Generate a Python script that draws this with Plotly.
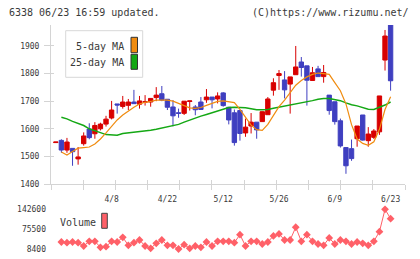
import plotly.graph_objects as go
import numpy as np

# ---------------- data ----------------
header_left = "6338 06/23 16:59 updated."
header_right = "(C)https://www.rizumu.net/"

candle_idx = list(range(61))
opens  = [1550, 1558, 1523, 1529, 1491, 1546, 1599, 1582, 1600, 1617,
          1639, 1690, 1681, 1685, 1697, 1689, 1696, 1697, 1713, 1727,
          1707, 1679, 1658, 1656, 1699, 1679, 1697, 1705, 1715, 1708,
          1730, 1678, 1658, 1666, 1585, 1610, 1624, 1626, 1651, 1740,
          1793, 1777, 1762, 1796, 1842, 1828, 1775, 1817, 1789, 1722,
          1698, 1629, 1532, 1528, 1564, 1650, 1557, 1569, 1589, 1849,
          1990]
highs  = [1552, 1562, 1567, 1529, 1534, 1587, 1620, 1624, 1622, 1647,
          1701, 1690, 1719, 1708, 1741, 1719, 1722, 1710, 1751, 1755,
          1707, 1704, 1673, 1700, 1701, 1686, 1715, 1744, 1715, 1732,
          1733, 1678, 1670, 1668, 1637, 1657, 1624, 1663, 1715, 1783,
          1813, 1809, 1788, 1900, 1860, 1828, 1824, 1828, 1831, 1722,
          1698, 1637, 1532, 1561, 1610, 1650, 1606, 1599, 1719, 1958,
          1995]
lows   = [1550, 1513, 1513, 1466, 1470, 1539, 1562, 1564, 1594, 1608,
          1634, 1655, 1673, 1668, 1691, 1673, 1684, 1680, 1700, 1700,
          1668, 1609, 1640, 1650, 1666, 1649, 1670, 1694, 1674, 1692,
          1680, 1616, 1539, 1557, 1571, 1583, 1564, 1625, 1651, 1720,
          1741, 1710, 1655, 1796, 1789, 1684, 1775, 1789, 1767, 1651,
          1615, 1532, 1437, 1484, 1535, 1557, 1535, 1563, 1578, 1811,
          1738]
closes = [1552, 1523, 1552, 1517, 1498, 1574, 1568, 1612, 1617, 1635,
          1668, 1686, 1697, 1697, 1691, 1701, 1698, 1710, 1722, 1704,
          1678, 1647, 1656, 1700, 1701, 1669, 1670, 1715, 1705, 1719,
          1684, 1632, 1550, 1583, 1606, 1624, 1596, 1662, 1708, 1767,
          1800, 1741, 1788, 1824, 1822, 1776, 1803, 1789, 1804, 1666,
          1626, 1538, 1466, 1492, 1610, 1559, 1581, 1592, 1719, 1936,
          1774]

ma5 = [None,
       1516, 1505, 1518, 1530, 1532, 1534, 1545, 1563, 1585, 1610,
       1632, 1650, 1665, 1678, 1690, 1696, 1699, 1704, 1704, 1704,
       1700, 1692, 1682, 1676, 1674, 1677, 1685, 1692, 1699, 1701,
       1699, 1695, 1670, 1643, 1613, 1597, 1594, 1616, 1649, 1680,
       1704, 1733, 1758, 1775, 1788, 1797, 1802, 1800, 1797, 1767,
       1738, 1690, 1615, 1563, 1547, 1540, 1553, 1598, 1670, 1716]
ma25 = [None,
        1642, 1636, 1627, 1620, 1612, 1600, 1594, 1586, 1579, 1577,
        1577, 1583, 1585, 1587, 1589, 1591, 1595, 1598, 1602, 1606,
        1611, 1616, 1624, 1632, 1640, 1646, 1652, 1658, 1664, 1672,
        1677, 1678, 1678, 1676, 1673, 1669, 1669, 1670, 1674, 1678,
        1682, 1685, 1689, 1692, 1697, 1702, 1707, 1710, 1710, 1705,
        1702, 1694, 1687, 1683, 1677, 1671, 1670, 1677, 1686, 1697]
volume = [None,
          32100, 29800, 32100, 29800, 18600, 34500, 34500, 14100, 16200, 34500,
          32100, 48000, 20900, 29800, 38900, 18600, 10700, 27700, 38900, 20900,
          20900, 8400, 23000, 10700, 18600, 14100, 32100, 18600, 34500, 34500,
          34500, 29800, 56900, 18600, 34500, 34500, 25300, 32100, 52500, 59250,
          38900, 38900, 82000, 34500, 56900, 34500, 25300, 20900, 45700, 25300,
          38900, 34500, 25300, 32100, 27700, 20900, 34500, 67000, 142600, 111000]

date_idx = [10, 20, 30, 40, 50, 60]
date_text = ["4/8", "4/22", "5/12", "5/26", "6/9", "6/23"]
price_ticks = [1400, 1500, 1600, 1700, 1800, 1900]
legend_labels = ["5-day MA", "25-day MA", "Volume"]

# ---------------- geometry / style ----------------
FIG_W, FIG_H = 420, 259
ML, MR, MT, MB = 51, 15, 25, 10
PW = FIG_W - ML - MR
PH = FIG_H - MT - MB
X0, DX = 55.8, 5.58          # pixel of candle 0 and candle spacing


def px(x):
    return (x - ML) / PW


def py(y):
    return (FIG_H - MB - y) / PH


def jx(x):
    return (x - X0) / DX


xrange_ = [jx(ML), jx(FIG_W - MR)]
main_dom = [py(184), 1.0]
vol_dom = [0.0, py(209.3)]
yrange_ = [1400, 1976]
frame_ticks = list(np.linspace(xrange_[0], xrange_[1], 12))

RED = "#d80000"
BLUE = "#3f3fc0"
ORANGE = "#f08c10"
GREEN = "#14a814"
VOLC = "#ff6068"
AXC = "#d4d4d4"
TXT = "#3a3a3a"
MONO = "DejaVu Sans Mono"

vals = [v for v in volume if v is not None]
vmin, vmax = min(vals), max(vals)
vmid = (vmin + vmax) / 2
vol_ticks = [vmin, vmid, vmax]

fig = go.Figure()

fig.add_trace(go.Scatter(x=candle_idx, y=ma25, mode="lines",
                         line=dict(color=GREEN, width=1.5),
                         hoverinfo="skip", showlegend=False))
fig.add_trace(go.Scatter(x=candle_idx, y=ma5, mode="lines",
                         line=dict(color=ORANGE, width=1.2),
                         hoverinfo="skip", showlegend=False))
fig.add_trace(go.Candlestick(x=candle_idx, open=opens, high=highs, low=lows, close=closes,
                             increasing=dict(line=dict(color=RED, width=1), fillcolor=RED),
                             decreasing=dict(line=dict(color=BLUE, width=1), fillcolor=BLUE),
                             whiskerwidth=0, hoverinfo="skip", showlegend=False))
fig.add_trace(go.Scatter(x=candle_idx, y=volume, mode="lines+markers",
                         line=dict(color=VOLC, width=1),
                         marker=dict(symbol="diamond", size=6, color=VOLC),
                         cliponaxis=False, hoverinfo="skip", showlegend=False,
                         xaxis="x2", yaxis="y2"))
# dummy trace to host the inside-tick overlay axes
fig.add_trace(go.Scatter(x=[None], y=[None], xaxis="x3", yaxis="y3",
                         hoverinfo="skip", showlegend=False))

tickfont = dict(family=MONO, size=8, color=TXT)
common = dict(automargin=False, showgrid=False, zeroline=False, fixedrange=True)

fig.update_layout(
    template="none",
    width=FIG_W, height=FIG_H,
    margin=dict(l=ML, r=MR, t=MT, b=MB, pad=0, autoexpand=False),
    paper_bgcolor="white", plot_bgcolor="white",
    showlegend=False, boxgap=0.22, boxgroupgap=0,
    xaxis=dict(domain=[0, 1], range=xrange_, anchor="y",
               tickmode="array", tickvals=frame_ticks, showticklabels=False,
               ticks="outside", ticklen=5, tickcolor=AXC, tickwidth=1,
               showline=True, linecolor=AXC, linewidth=1,
               rangeslider=dict(visible=False), **common),
    yaxis=dict(domain=main_dom, range=yrange_, anchor="x",
               tickmode="array", tickvals=price_ticks,
               ticks="outside", ticklen=6, tickcolor=AXC, tickwidth=1,
               showline=True, linecolor=AXC, linewidth=1,
               tickfont=tickfont, ticklabelstandoff=3, **common),
    xaxis3=dict(overlaying="x", anchor="y3", range=xrange_,
                tickmode="array", tickvals=frame_ticks, showticklabels=False,
                ticks="inside", ticklen=4, tickcolor=AXC, tickwidth=1,
                showline=False, **common),
    yaxis3=dict(overlaying="y", anchor="x3", range=yrange_,
                tickmode="array", tickvals=price_ticks, showticklabels=False,
                ticks="inside", ticklen=3, tickcolor=AXC, tickwidth=1,
                showline=False, **common),
    xaxis2=dict(domain=[0, 1], range=xrange_, anchor="y2", side="top",
                tickmode="array", tickvals=date_idx, ticktext=date_text,
                ticks="outside", ticklen=3, tickcolor="rgba(0,0,0,0)",
                showline=False, tickfont=tickfont, **common),
    yaxis2=dict(domain=vol_dom, range=[vmin, vmax], anchor="x2",
                tickmode="array", tickvals=vol_ticks,
                ticktext=[f"{int(round(v))}" for v in vol_ticks],
                ticks="", showline=False,
                tickfont=tickfont, ticklabelstandoff=4, **common),
)

legfont = dict(family=MONO, size=10, color=TXT)
shapes = [
    # MA legend frame
    dict(type="rect", xref="paper", yref="paper",
         x0=px(65.7), x1=px(142.7), y0=py(77.3), y1=py(30.7),
         line=dict(color="#d8d8d8", width=1), fillcolor="white", layer="above"),
    dict(type="rect", xref="paper", yref="paper",
         x0=px(131), x1=px(137.5), y0=py(52.7), y1=py(37.3),
         line=dict(color="#333333", width=1), fillcolor=ORANGE, layer="above"),
    dict(type="rect", xref="paper", yref="paper",
         x0=px(131), x1=px(137.5), y0=py(69.3), y1=py(54.3),
         line=dict(color="#333333", width=1), fillcolor=GREEN, layer="above"),
    # volume legend swatch
    dict(type="rect", xref="paper", yref="paper",
         x0=px(101.7), x1=px(107.3), y0=py(228.3), y1=py(213.3),
         line=dict(color="#444444", width=1), fillcolor=VOLC, layer="above"),
]
annotations = [
    dict(text=legend_labels[0], x=px(126), y=py(46), xanchor="right", yanchor="middle"),
    dict(text=legend_labels[1], x=px(126), y=py(63), xanchor="right", yanchor="middle"),
    dict(text=legend_labels[2], x=px(58), y=py(222.3), xanchor="left", yanchor="middle"),
    dict(text=header_left, x=px(7), y=py(12), xanchor="left", yanchor="middle"),
    dict(text=header_right, x=px(411), y=py(12), xanchor="right", yanchor="middle"),
]
for a in annotations:
    a.update(xref="paper", yref="paper", showarrow=False, font=legfont)

fig.update_layout(shapes=shapes, annotations=annotations)

fig.write_html("out.html")
